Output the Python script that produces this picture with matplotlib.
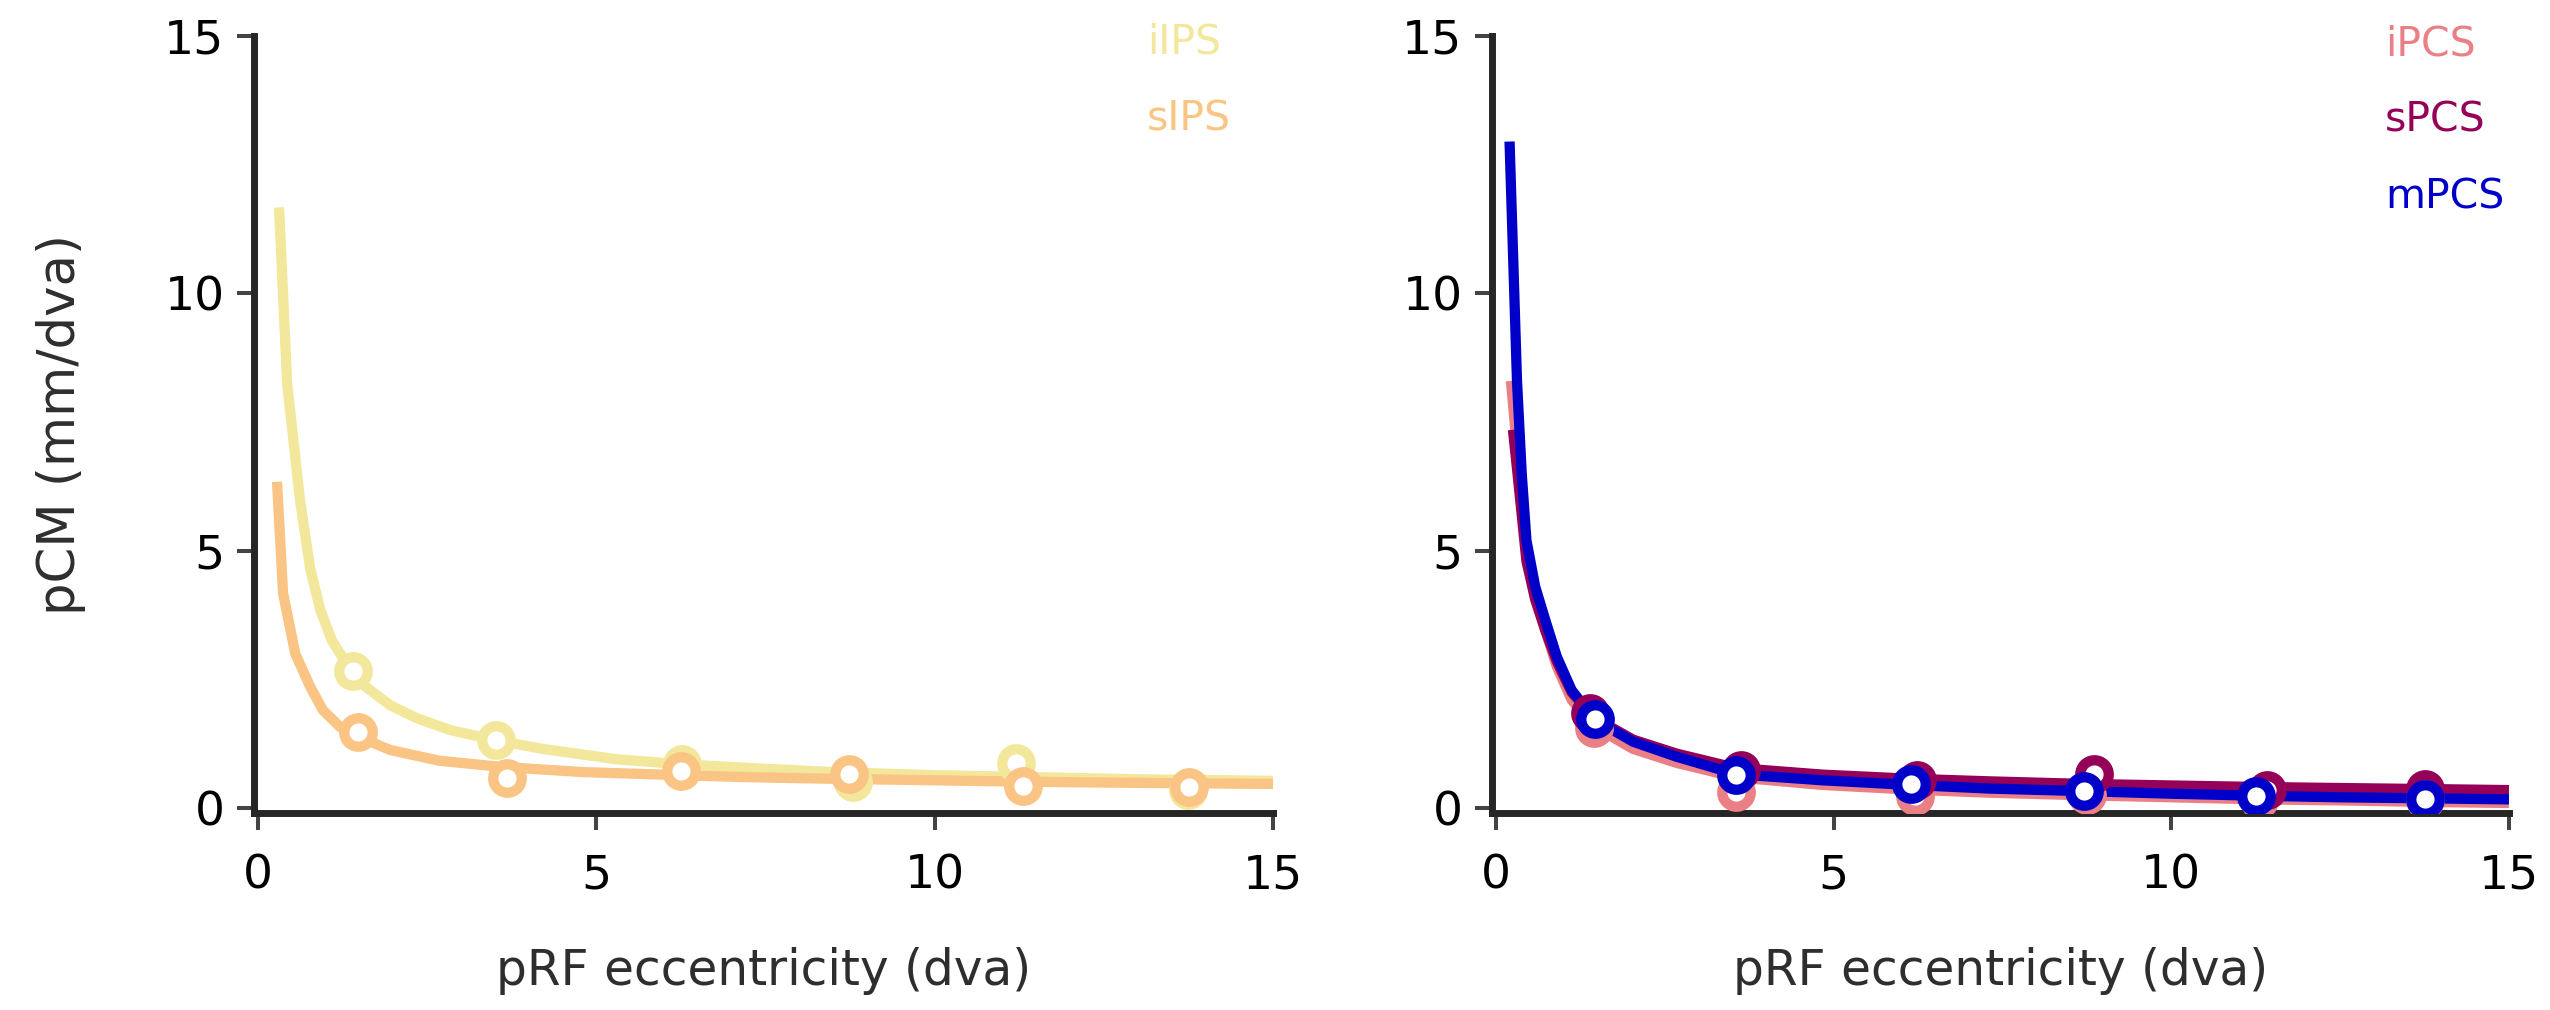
import numpy as np
import matplotlib
matplotlib.use("Agg")
import matplotlib.pyplot as plt

plt.rcParams['font.family'] = ['DejaVu Sans']

# ---- data ----
# fitted curves (left panel)
iips_fit_x = [0.31, 0.43, 0.62, 0.77, 0.92, 1.09, 1.31, 1.50, 1.95, 2.34, 2.83, 3.50, 4.21, 5.29, 6.27, 7.26, 8.5, 10.0, 11.5, 13.0, 15.0]
iips_fit_y = [11.67, 8.25, 5.98, 4.66, 3.85, 3.26, 2.80, 2.45, 2.00, 1.75, 1.52, 1.32, 1.15, 0.95, 0.85, 0.78, 0.70, 0.64, 0.60, 0.56, 0.53]
sips_fit_x = [0.28, 0.37, 0.55, 0.77, 0.96, 1.21, 1.50, 1.95, 2.68, 3.60, 4.80, 6.23, 7.26, 8.5, 10.0, 11.5, 13.0, 15.0]
sips_fit_y = [6.34, 4.17, 3.00, 2.36, 1.90, 1.58, 1.38, 1.13, 0.92, 0.80, 0.70, 0.64, 0.60, 0.57, 0.54, 0.51, 0.49, 0.47]

# fitted curves (right panel)
pcs_fit_x = [0.31, 0.38, 0.45, 0.58, 0.73, 0.90, 1.12, 1.46, 2.03, 2.67, 3.55, 4.84, 6.14, 7.3, 8.7, 10.0, 11.3, 12.5, 13.8, 15.0]
ipcs_fit_y = [7.20, 6.00, 5.00, 4.10, 3.45, 2.75, 2.10, 1.58, 1.15, 0.88, 0.60, 0.45, 0.36, 0.30, 0.25, 0.21, 0.17, 0.15, 0.12, 0.10]
spcs_fit_y = [6.60, 5.70, 4.80, 4.05, 3.45, 2.85, 2.25, 1.75, 1.33, 1.06, 0.78, 0.65, 0.57, 0.52, 0.47, 0.44, 0.41, 0.39, 0.37, 0.35]
mpcs_fit_y = [8.30, 6.50, 5.20, 4.30, 3.65, 2.94, 2.29, 1.72, 1.29, 1.00, 0.66, 0.54, 0.45, 0.38, 0.33, 0.28, 0.24, 0.21, 0.19, 0.17]
ipcs_start = (0.22, 8.3)
spcs_start = (0.25, 7.35)
mpcs_start = (0.20, 12.95)

# binned data points
iips_x = [1.40, 3.51, 6.26, 8.79, 11.20, 13.74]
iips_y = [2.67, 1.33, 0.86, 0.50, 0.87, 0.35]
sips_x = [1.48, 3.68, 6.25, 8.73, 11.30, 13.76]
sips_y = [1.47, 0.59, 0.72, 0.67, 0.43, 0.41]
ipcs_x = [1.45, 3.55, 6.20, 8.75, 11.30, 13.76]
ipcs_y = [1.55, 0.32, 0.24, 0.25, 0.16, 0.16]
spcs_x = [1.39, 3.62, 6.23, 8.86, 11.42, 13.76]
spcs_y = [1.84, 0.75, 0.54, 0.67, 0.35, 0.38]
mpcs_x = [1.47, 3.55, 6.14, 8.71, 11.25, 13.76]
mpcs_y = [1.73, 0.64, 0.46, 0.34, 0.23, 0.18]

left_names = ['iIPS', 'sIPS']
left_colors = ['#f3e79b', '#fac484']
right_names = ['iPCS', 'sPCS', 'mPCS']
right_colors = ['#eb7f86', '#950058', '#0000c8']

# ---- figure ----
W, H = 2550, 1010
fig = plt.figure(figsize=(W / 100, H / 100), dpi=100)


def px_axes(left, right, top, bottom):
    return fig.add_axes([left / W, 1 - bottom / H, (right - left) / W, (bottom - top) / H])


ax1 = px_axes(254, 1273, 36, 813)
ax2 = px_axes(1492, 2509, 36, 813)

LW = 7.4
MS = 20.5


def style(ax):
    ax.set_xlim(-0.06, 15)
    ax.set_ylim(-0.095, 15)
    ax.set_xticks([0, 5, 10, 15])
    ax.set_yticks([0, 5, 10, 15])
    for s in ['top', 'right']:
        ax.spines[s].set_visible(False)
    for s in ['left', 'bottom']:
        ax.spines[s].set_linewidth(5)
        ax.spines[s].set_color('#262626')
        ax.spines[s].set_capstyle('projecting')
    ax.tick_params(axis='both', direction='out', length=12.2, width=2.9, color='#444444',
                   labelsize=34, labelcolor='black')
    ax.tick_params(axis='x', pad=17)
    ax.tick_params(axis='y', pad=9)
    ax.set_xlabel('pRF eccentricity (dva)', fontsize=35, color='#2e2e2e', va='top')
    ax.xaxis.set_label_coords(0.5, -0.172)


def series(ax, fx, fy, px, py, color):
    ax.plot(fx, fy, color=color, lw=LW, solid_joinstyle='round', solid_capstyle='butt', zorder=2)
    ax.plot(px, py, 'o', ms=MS, mfc='white', mec=color, mew=LW, zorder=3)


style(ax1)
style(ax2)

series(ax1, iips_fit_x, iips_fit_y, iips_x, iips_y, left_colors[0])
series(ax1, sips_fit_x, sips_fit_y, sips_x, sips_y, left_colors[1])

series(ax2, [ipcs_start[0]] + pcs_fit_x[1:], [ipcs_start[1]] + ipcs_fit_y[1:], ipcs_x, ipcs_y, right_colors[0])
series(ax2, [spcs_start[0]] + pcs_fit_x, [spcs_start[1]] + spcs_fit_y, spcs_x, spcs_y, right_colors[1])
series(ax2, [mpcs_start[0]] + pcs_fit_x, [mpcs_start[1]] + mpcs_fit_y, mpcs_x, mpcs_y, right_colors[2])

ax1.set_ylabel('pCM (mm/dva)', fontsize=37, color='#2e2e2e')
ax1.yaxis.set_label_coords(-0.165, 0.5)

# legend entries as coloured text
for i, (name, c) in enumerate(zip(left_names, left_colors)):
    ax1.text(0.876, 0.978 - i * 0.1, name, color=c, fontsize=29.5, transform=ax1.transAxes,
             ha='left', va='baseline')
for i, (name, c) in enumerate(zip(right_names, right_colors)):
    ax2.text(0.878, 0.9755 - i * 0.0985, name, color=c, fontsize=29.5, transform=ax2.transAxes,
             ha='left', va='baseline')

fig.savefig('out.png', dpi=100, facecolor='white')
